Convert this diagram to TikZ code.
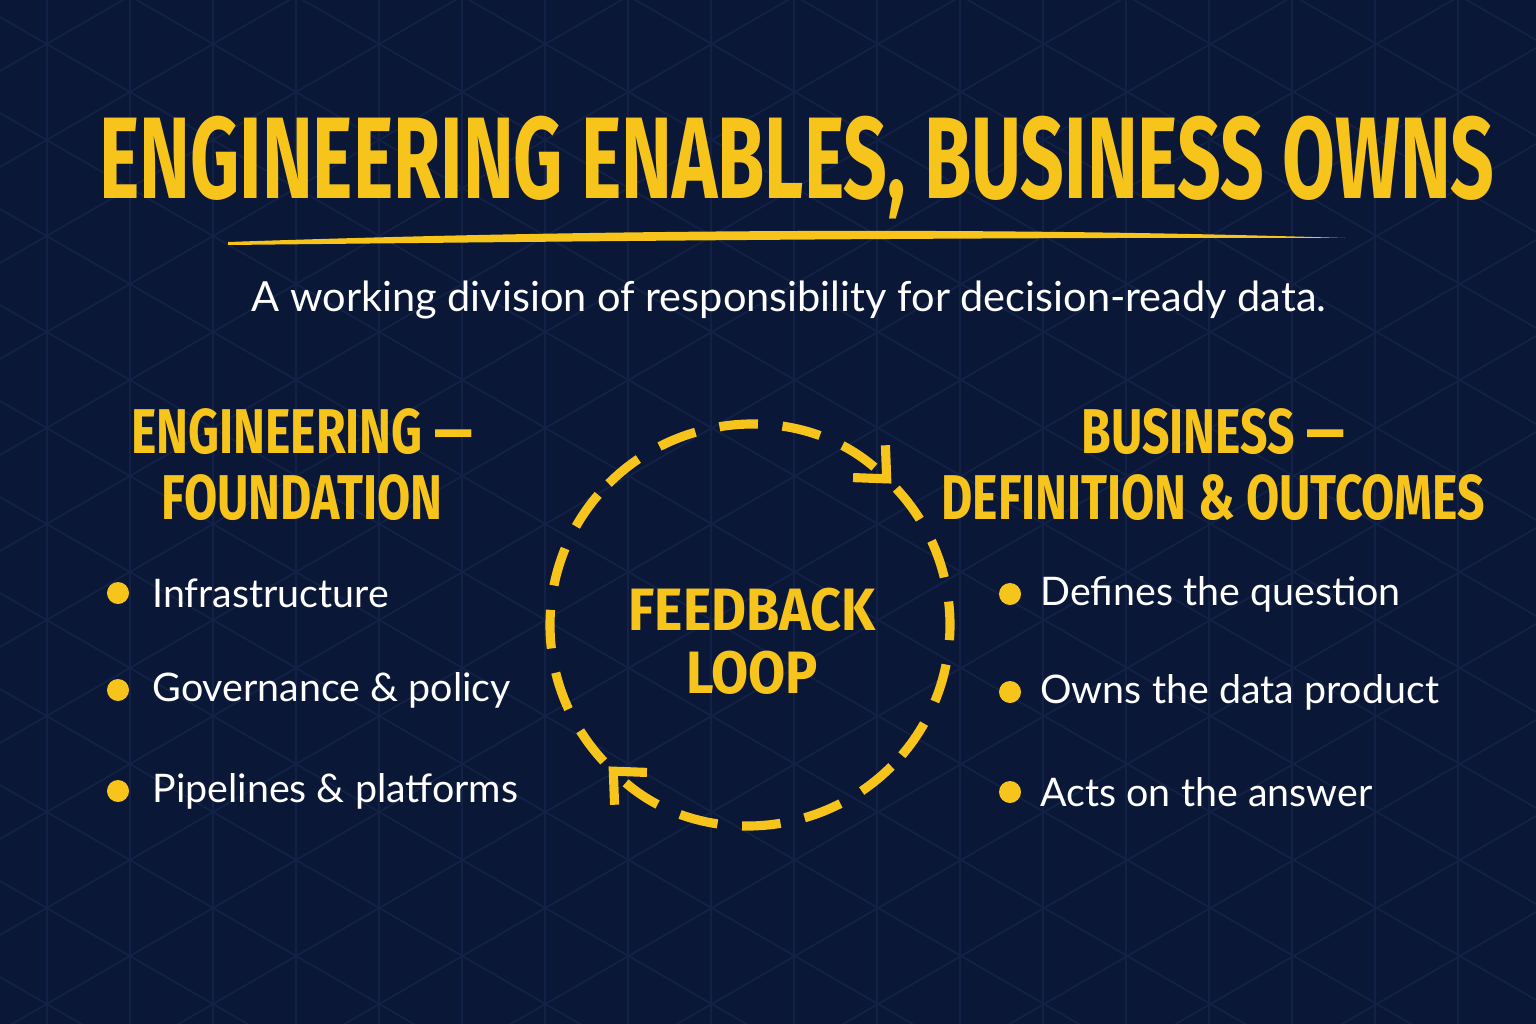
\documentclass[tikz,border=0pt]{standalone}
\usepackage{fontspec}
\setmainfont{Lato}
\newfontfamily\condfont[FakeStretch=0.66]{Fira Sans Bold}
\newfontfamily\headfont[FakeStretch=0.76]{Fira Sans Bold}
\newfontfamily\loopfont[FakeStretch=0.9]{Fira Sans Bold}
\usetikzlibrary{arrows.meta}
\definecolor{navy}{HTML}{0B1736}
\definecolor{gridline}{HTML}{122247}
\definecolor{gold}{HTML}{F7C41C}
\begin{document}
\begin{tikzpicture}[x=0.01cm, y=-0.01cm,
    heading/.style={text=gold, font=\headfont\fontsize{18}{18.8}\selectfont, align=center},
    item/.style={text=white, font=\fontsize{11.2}{14}\selectfont, anchor=west},
    dot/.style={circle, fill=gold, inner sep=0pt, minimum size=0.22cm},
    loopline/.style={gold, line width=2.6pt, dash pattern=on 11pt off 7pt},
    looptip/.style={-{Straight Barb[length=7pt,width=13pt,line width=2.6pt]}}]
  % Background and grid
  \fill[navy] (0,0) rectangle (1536,1024);
  \useasboundingbox (0,0) rectangle (1536,1024);
  \begin{scope}
    \clip (0,0) rectangle (1536,1024);
    \foreach \k in {0,...,18} \draw[gridline, line width=0.5pt] (47+83*\k,0) -- (47+83*\k,1024);
    \foreach \k in {-10,...,20} {
      \draw[gridline, line width=0.5pt] (0,785+96*\k-960) -- (1536,785+96*\k-960+887);
      \draw[gridline, line width=0.5pt] (0,839+96*\k-960) -- (1536,839+96*\k-960-887);
    }
  \end{scope}

  % Title
  \node[text=gold, font=\condfont\fontsize{33}{40}\selectfont] (title) at (797,168) {ENGINEERING ENABLES, BUSINESS OWNS};
  \fill[gold] (228,242) .. controls (600,229) and (1000,227) .. (1345,238)
    .. controls (1000,237) and (600,241) .. (228,245) -- cycle;
  \node[text=white, font=\fontsize{11.8}{14}\selectfont] (sub) at (789,300) {A working division of responsibility for decision-ready data.};

  % Engineering side
  \node[heading] (eng) at (302,465) {ENGINEERING —\\FOUNDATION};
  \node[dot] (e1) at (118,593) {};
  \node[dot] (e2) at (118,690) {};
  \node[dot] (e3) at (118,791) {};
  \node[item] at (140,593) {Infrastructure};
  \node[item] at (140,690) {Governance \& policy};
  \node[item] at (140,791) {Pipelines \& platforms};

  % Business side
  \node[heading] (bus) at (1213,465) {BUSINESS —\\DEFINITION \& OUTCOMES};
  \node[dot] (b1) at (1010,594) {};
  \node[dot] (b2) at (1010,692) {};
  \node[dot] (b3) at (1010,792) {};
  \node[item] at (1028,594) {Defines the question};
  \node[item] at (1028,692) {Owns the data product};
  \node[item] at (1028,792) {Acts on the answer};

  % Feedback loop
  \node[heading, font=\loopfont\fontsize{17}{17.8}\selectfont] (loop) at (752,641) {FEEDBACK\\LOOP};
  \draw[loopline, looptip] (750,625) ++(-135:200) arc[start angle=-135, end angle=-45, radius=200];
  \draw[loopline] (750,625) ++(-43:200) arc[start angle=-43, end angle=45, radius=200];
  \draw[loopline, looptip] (750,625) ++(45:200) arc[start angle=45, end angle=135, radius=200];
  \draw[loopline] (750,625) ++(137:200) arc[start angle=137, end angle=225, radius=200];
\end{tikzpicture}
\end{document}
